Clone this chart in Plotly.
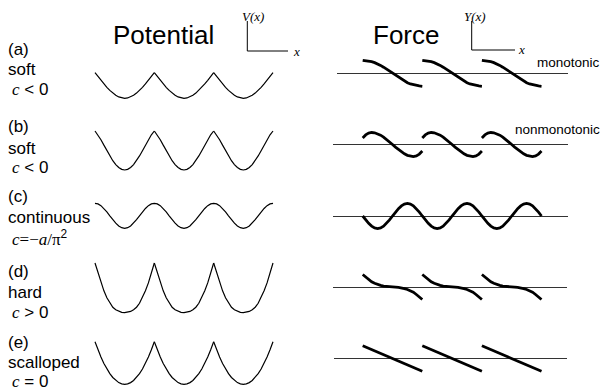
import plotly.graph_objects as go

W, H = 608, 391
SANS = "Liberation Sans, Arial, sans-serif"
SERIF = "Liberation Serif, Times New Roman, serif"

# half a period, t = 0 .. 0.5 (the other half mirrors it)
T_HALF = [0, .05, .1, .15, .2, .25, .3, .35, .4, .45, .5]
N_PERIODS = 3

LETTERS = ["(a)", "(b)", "(c)", "(d)", "(e)"]
KINDS = ["soft", "soft", "continuous", "hard", "scalloped"]
CONDS = ["<i>c</i> < 0", "<i>c</i> < 0", "<i>c</i>=\u2212<i>a</i>/\u03c0<sup>2</sup>",
         "<i>c</i> > 0", "<i>c</i> = 0"]

# potential V(t), 1 = top of the cusp, 0 = bottom of the well
POT_A = [1, .849, .702, .561, .429, .309, .203, .117, .053, .013, 0]
POT_B = [1, .903, .777, .637, .495, .360, .239, .138, .063, .016, 0]
POT_C = [1, .976, .905, .794, .655, .5, .345, .206, .095, .024, 0]
POT_D = [1, .80, .60, .44, .30, .19, .11, .06, .025, .006, 0]
POT_E = [1, .81, .64, .49, .36, .25, .16, .09, .04, .01, 0]

# force Y(t), scaled so the largest excursion is 1
FOR_A = [1, .975, .94, .89, .82, .73, .61, .47, .32, .16, 0]
FOR_B = [.55, .80, .95, 1.0, .975, .90, .78, .62, .43, .22, 0]
FOR_C = [0, -.309, -.588, -.809, -.951, -1, -.951, -.809, -.588, -.309, 0]
FOR_D = [1, .80, .60, .42, .30, .20, .13, .07, .035, .012, 0]
FOR_E = [1, .9, .8, .7, .6, .5, .4, .3, .2, .1, 0]

POTS = [POT_A, POT_B, POT_C, POT_D, POT_E]
FORCES = [FOR_A, FOR_B, FOR_C, FOR_D, FOR_E]
CONTINUOUS = [False, False, True, False, False]
RIGHT_NOTES = {0: "monotonic", 1: "nonmonotonic"}

# page layout in pixels
POT_X = (95, 273)
POT_Y = [(72.7, 98.3), (131, 170), (203.3, 228.3), (263, 312.7), (341.7, 384.3)]
FOR_X = (362.7, 541.5)
FOR_LINE = [(337, 568), (333, 568), (333, 568), (333, 567), (334, 567)]
FOR_AXIS_Y = [73.3, 144.5, 216, 287, 358.5]
FOR_AMP = [13, 12, 12.5, 12.5, 12.7]
LABEL_Y = [(50, 70, 90), (127, 148, 167), (196, 217, 238), (271, 292, 312), (342, 362, 381)]


def full_period(half, odd):
    back = half[-2::-1]
    if odd:
        back = [-v for v in back]
    return half + back


def tile(vals, continuous):
    t_full = T_HALF + [1 - t for t in T_HALF[-2::-1]]
    xs, ys = [], []
    for k in range(N_PERIODS):
        start = 1 if (continuous and k > 0) else 0
        xs += [k + t for t in t_full[start:]]
        ys += vals[start:]
        if not continuous:
            xs.append(None)
            ys.append(None)
    return xs, ys


fig = go.Figure()
layout = {}
per_px = (FOR_X[1] - FOR_X[0]) / N_PERIODS
pot_scale = N_PERIODS / (POT_X[1] - POT_X[0])

for i in range(5):
    n = 2 * i + 1
    # potential panel
    xs, ys = tile(full_period(POTS[i], False), CONTINUOUS[i])
    fig.add_trace(go.Scatter(x=xs, y=ys, mode="lines", xaxis=f"x{n}", yaxis=f"y{n}",
                             line=dict(color="black", width=1.2), hoverinfo="skip"))
    pad = 4
    top, bot = POT_Y[i]
    vs = 1 / (bot - top)
    layout[f"xaxis{n}"] = dict(domain=[(POT_X[0] - pad) / W, (POT_X[1] + pad) / W],
                               range=[-pad * pot_scale, N_PERIODS + pad * pot_scale],
                               visible=False)
    layout[f"yaxis{n}"] = dict(domain=[1 - (bot + pad) / H, 1 - (top - pad) / H],
                               range=[-pad * vs, 1 + pad * vs], visible=False)

    # force panel
    m = n + 1
    xs, ys = tile(full_period(FORCES[i], True), CONTINUOUS[i])
    fig.add_trace(go.Scatter(x=xs, y=ys, mode="lines", xaxis=f"x{m}", yaxis=f"y{m}",
                             line=dict(color="black", width=2.8), hoverinfo="skip"))
    left, right = FOR_LINE[i]
    layout[f"xaxis{m}"] = dict(domain=[left / W, right / W],
                               range=[-(FOR_X[0] - left) / per_px,
                                      N_PERIODS + (right - FOR_X[1]) / per_px],
                               visible=False)
    half_h = 20
    ay = FOR_AXIS_Y[i]
    layout[f"yaxis{m}"] = dict(domain=[1 - (ay + half_h) / H, 1 - (ay - half_h) / H],
                               range=[-half_h / FOR_AMP[i], half_h / FOR_AMP[i]],
                               showgrid=False, showticklabels=False, ticks="",
                               showline=False, zeroline=True,
                               zerolinecolor="#333", zerolinewidth=1)

annotations = []


def note(text, px, py, size, family=SANS, xanchor="left"):
    annotations.append(dict(text=text, x=px / W, y=1 - py / H, xref="paper", yref="paper",
                            xanchor=xanchor, yanchor="middle", showarrow=False,
                            font=dict(family=family, size=size, color="black")))


note("Potential", 163.5, 35, 26, xanchor="center")
note("Force", 406, 35, 26, xanchor="center")

for i in range(5):
    y1, y2, y3 = LABEL_Y[i]
    note(LETTERS[i], 6, y1, 17)
    note(KINDS[i], 6, y2, 17)
    cond = CONDS[i].replace("<i>c</i>", f"<span style=\"font-family:{SERIF}\"><i>c</i></span>")
    if i == 2:
        cond = (f"<span style=\"font-family:{SERIF}\"><i>c</i>=\u2212<i>a</i>/\u03c0</span>"
                "<sup>2</sup>")
    note(cond, 10, y3, 17)

for i, txt in RIGHT_NOTES.items():
    note(txt, 602, [62, 129][i], 13.5, xanchor="right")

# little axis icons
shapes = []
for vx, hy, hx1, lab, lab_x, x_x in [(247.3, 51, 288, "V(x)", 253.3, 296),
                                     (471.7, 50, 515, "Y(x)", 474.7, 521)]:
    shapes.append(dict(type="line", xref="paper", yref="paper", x0=vx / W, x1=vx / W,
                       y0=1 - 21 / H, y1=1 - hy / H, line=dict(color="black", width=1)))
    shapes.append(dict(type="line", xref="paper", yref="paper", x0=vx / W, x1=hx1 / W,
                       y0=1 - hy / H, y1=1 - hy / H, line=dict(color="black", width=1)))
    note(f"<i>{lab}</i>", lab_x, 16, 13, family=SERIF, xanchor="center")
    note("<i>x</i>", x_x, hy, 13, family=SERIF, xanchor="center")

fig.update_layout(width=W, height=H, margin=dict(l=0, r=0, t=0, b=0),
                  paper_bgcolor="white", plot_bgcolor="white", showlegend=False,
                  annotations=annotations, shapes=shapes, **layout)
fig.write_html("out.html", config={"displayModeBar": False},
               post_script="document.body.style.margin='0';")
